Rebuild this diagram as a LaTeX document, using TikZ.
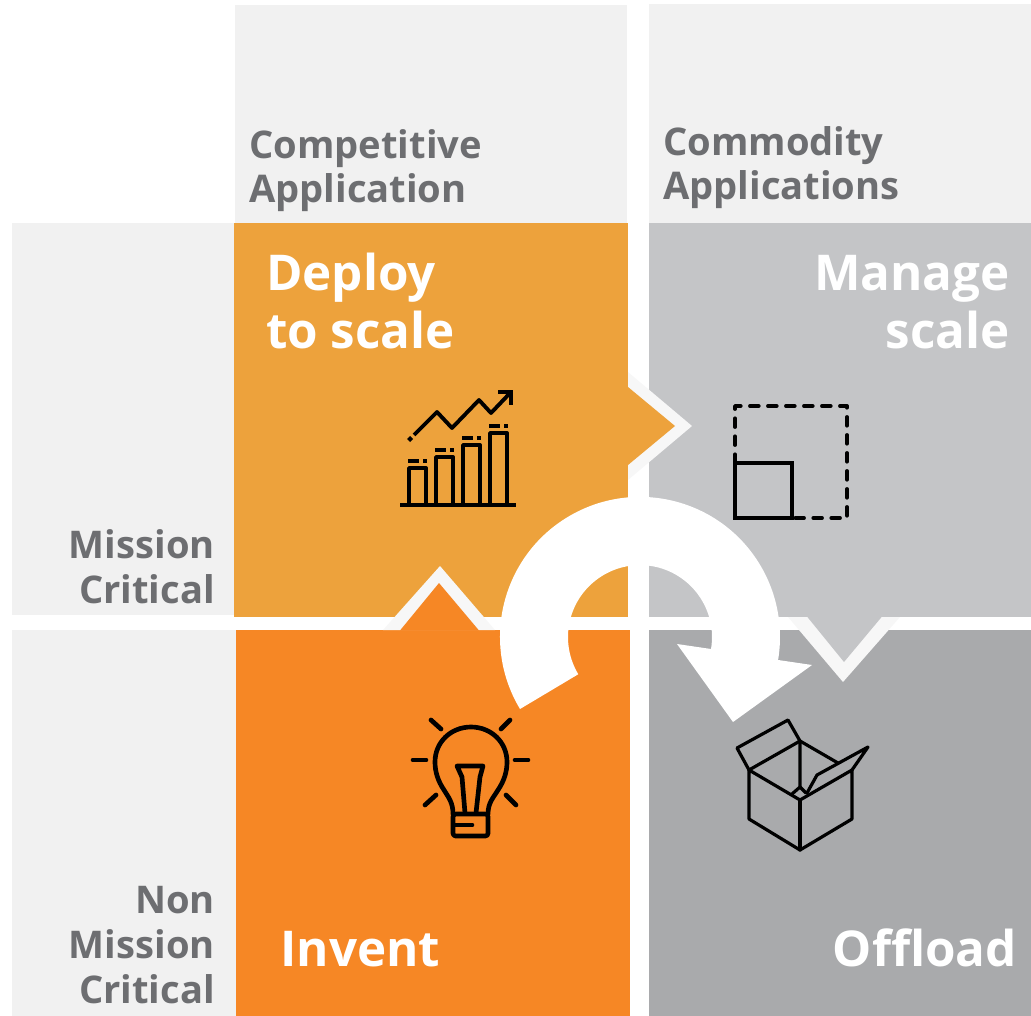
\documentclass[tikz,border=0pt]{standalone}
\usepackage{fontspec}
\setmainfont{Open Sans}
\definecolor{headgray}{HTML}{F1F1F1}
\definecolor{bandgray}{HTML}{F7F7F7}
\definecolor{labelgray}{HTML}{6D6E71}
\definecolor{deployorange}{HTML}{EDA23C}
\definecolor{inventorange}{HTML}{F68725}
\definecolor{managegray}{HTML}{C4C5C7}
\definecolor{offloadgray}{HTML}{A9AAAC}
\tikzset{
  x=0.75pt,y=-0.75pt,
  axislabel/.style={text=labelgray,inner sep=0pt,font=\fontsize{28.6}{33.5}\selectfont\bfseries},
  quadlabel/.style={text=white,inner sep=0pt,font=\fontsize{37}{43}\selectfont\bfseries},
  icon/.style={line width=2.9pt,black,line cap=round,line join=round},
  bulbline/.style={icon,line width=3.5pt},
  boxline/.style={icon,line width=2.4pt}
}
\begin{document}
\begin{tikzpicture}
\useasboundingbox (0,0) rectangle (1031,1016);
% header and side panels
\fill[headgray] (235,5) rectangle (627,223);
\fill[headgray] (649,4) rectangle (1031,223);
\fill[headgray] (12,223) rectangle (234,615);
\fill[headgray] (12,630) rectangle (236,1016);
% quadrants
\fill[deployorange] (234,223) rectangle (628,617);
\fill[managegray] (649,223) rectangle (1031,617);
\fill[inventorange] (236,630) rectangle (630,1016);
\fill[offloadgray] (649,630) rectangle (1031,1016);
% chevrons
\fill[bandgray] (628,372) -- (692,426) -- (628,480) -- cycle;
\fill[deployorange] (628,387) -- (675,426) -- (628,465) -- cycle;
\fill[bandgray] (383,630) -- (440,566) -- (495,630) -- cycle;
\fill[inventorange] (400,630.5) -- (439,583) -- (479,630.5) -- cycle;
\fill[bandgray] (788,617) -- (843,682) -- (900,617) -- cycle;
\fill[managegray] (807,616.5) -- (844,662) -- (882,616.5) -- cycle;
% big arrow
\fill[white] (577,675) -- (520,709) arc[start angle=149,end angle=369.5,radius=140]
  -- (812,665) -- (733,722) -- (677,644) -- (711,649)
  arc[start angle=369.5,end angle=149,radius=72] -- cycle;
% labels
\node[axislabel,anchor=base west,align=left] (competitive) at (249,203) {Competitive\\Application};
\node[axislabel,anchor=base west,align=left] (commodity) at (663,200) {Commodity\\Applications};
\node[axislabel,anchor=base east,align=right] (mission) at (215,603) {Mission\\Critical};
\node[axislabel,anchor=base east,align=right] (nonmission) at (215,1003) {Non\\Mission\\Critical};
\node[quadlabel,anchor=base west,align=left] (deploy) at (266,348) {Deploy\\to scale};
\node[quadlabel,anchor=base east,align=right] (manage) at (1010,348) {Manage\\scale};
\node[quadlabel,anchor=base west] (invent) at (280,966) {Invent};
\node[quadlabel,anchor=base east] (offload) at (1017,966) {Offload};
% chart icon
\draw[icon,line cap=butt] (400,505) -- (516,505);
\foreach \xa/\ya in {409/468,436/457,463/445,490/433}{
  \draw[icon,line cap=butt] (\xa,505) -- (\xa,\ya) -- (\xa+17,\ya) -- (\xa+17,505);
  \draw[icon,line cap=butt] (\xa-1,\ya-7) -- (\xa+10,\ya-7) (\xa+14,\ya-7) -- (\xa+18,\ya-7);
}
\draw[icon,line cap=butt] (414,435) -- (437,412) -- (452,428) -- (479,400) -- (491,413) -- (511,392);
\draw[icon,line cap=butt,line join=miter] (498,392) -- (511,392) -- (511,405);
\fill (410,436) -- (413,439) -- (410,442) -- (407,439) -- cycle;
% scale icon
\draw[icon,line width=3pt,line cap=butt,line join=miter] (735,463) rectangle (792,518);
\draw[icon,dash pattern=on 6.5pt off 7pt] (735,463) -- (735,406) -- (847,406) -- (847,518) -- (792,518);
% bulb icon
\draw[bulbline] (453,814) .. controls (453,803) and (449,798) .. (444,790)
  .. controls (438,781) and (435,772) .. (435,762)
  .. controls (435,742) and (451,727) .. (471,727)
  .. controls (491,727) and (507,742) .. (507,762)
  .. controls (507,772) and (504,781) .. (498,790)
  .. controls (493,798) and (488,803) .. (488,814);
\draw[bulbline,rounded corners=2pt] (453,814) rectangle (488,836);
\draw[bulbline] (455,825) -- (472,825);
\draw[bulbline] (465,813) -- (462,777) -- (457,766) -- (483,766) -- (480,777) -- (476,813);
\foreach \xa/\ya/\xb/\yb in {431/720/441/729,510/720/501/729,413/760/426/760,515/760/528/760,425/805/436/795,516/805/506/795}{
  \draw[bulbline] (\xa,\ya) -- (\xb,\yb);
}
% box icon
\draw[boxline] (749,770) -- (800,800) -- (852,770) -- (852,819) -- (800,850) -- (749,819) -- cycle;
\draw[boxline] (800,800) -- (800,850);
\draw[boxline] (749,770) -- (737,748) -- (788,720) -- (800,741) -- cycle;
\draw[boxline] (800,741) -- (800,787) -- (792,794);
\draw[boxline] (800,787) -- (806,793);
\draw[boxline] (800,741) -- (838,763);
\draw[boxline] (852,770) -- (868,747) -- (817,775) -- (807,793);
\end{tikzpicture}
\end{document}
